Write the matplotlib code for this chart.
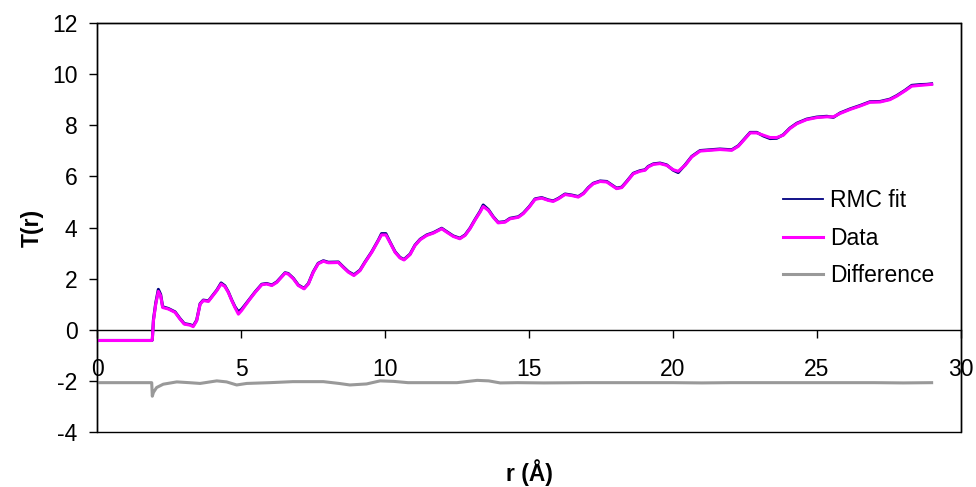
import matplotlib
matplotlib.use("Agg")
import matplotlib.pyplot as plt
from matplotlib.patches import Rectangle

plt.rcParams['font.family'] = ['Liberation Sans', 'DejaVu Sans']
plt.rcParams['axes.unicode_minus'] = False

r_vals = [0, 1.90, 1.92, 1.96, 2.04, 2.13, 2.21, 2.28, 2.48, 2.71,
          2.88, 3.03, 3.23, 3.34, 3.46, 3.58, 3.69, 3.87, 3.98, 4.16,
          4.31, 4.44, 4.56, 4.68, 4.79, 4.91, 5.02, 5.14, 5.31, 5.49,
          5.72, 5.89, 6.07, 6.24, 6.40, 6.53, 6.64, 6.82, 6.99, 7.19,
          7.34, 7.51, 7.68, 7.86, 8.03, 8.38, 8.55, 8.73, 8.92, 9.13,
          9.31, 9.54, 9.77, 9.88, 10.03, 10.17, 10.35, 10.52, 10.66, 10.87,
          11.04, 11.22, 11.45, 11.68, 11.97, 12.14, 12.37, 12.60, 12.78, 12.95,
          13.13, 13.30, 13.41, 13.59, 13.76, 13.93, 14.17, 14.34, 14.63, 14.80,
          15.01, 15.21, 15.44, 15.67, 15.84, 16.02, 16.25, 16.48, 16.71, 16.89,
          17.06, 17.23, 17.47, 17.70, 17.87, 18.04, 18.22, 18.39, 18.62, 18.85,
          19.03, 19.14, 19.32, 19.55, 19.78, 20.01, 20.18, 20.42, 20.65, 20.94,
          21.28, 21.63, 22.04, 22.27, 22.45, 22.68, 22.91, 23.14, 23.37, 23.60,
          23.83, 24.06, 24.30, 24.64, 24.99, 25.34, 25.57, 25.80, 26.15, 26.49,
          26.84, 27.19, 27.53, 27.77, 28.06, 28.29, 28.58, 28.81, 28.98]

data_T = [-0.42, -0.42, -0.40, 0.35, 1.00, 1.50, 1.33, 0.87, 0.81, 0.68,
          0.42, 0.22, 0.18, 0.12, 0.35, 1.00, 1.14, 1.11, 1.27, 1.53,
          1.79, 1.69, 1.46, 1.14, 0.87, 0.61, 0.75, 0.94, 1.20, 1.46,
          1.76, 1.79, 1.73, 1.85, 2.05, 2.21, 2.18, 1.99, 1.73, 1.60,
          1.79, 2.25, 2.58, 2.68, 2.62, 2.63, 2.44, 2.25, 2.12, 2.31,
          2.64, 3.03, 3.49, 3.71, 3.71, 3.42, 3.03, 2.81, 2.73, 2.94,
          3.29, 3.52, 3.69, 3.78, 3.95, 3.82, 3.65, 3.56, 3.69, 3.95,
          4.30, 4.60, 4.82, 4.67, 4.40, 4.18, 4.21, 4.34, 4.40, 4.54,
          4.80, 5.10, 5.15, 5.06, 5.02, 5.12, 5.29, 5.25, 5.19, 5.32,
          5.54, 5.71, 5.80, 5.78, 5.65, 5.52, 5.56, 5.78, 6.10, 6.20,
          6.24, 6.37, 6.47, 6.50, 6.43, 6.26, 6.20, 6.43, 6.76, 6.99,
          7.02, 7.05, 7.02, 7.18, 7.41, 7.70, 7.70, 7.61, 7.52, 7.52,
          7.61, 7.87, 8.06, 8.22, 8.30, 8.33, 8.33, 8.46, 8.62, 8.75,
          8.90, 8.91, 9.00, 9.14, 9.35, 9.53, 9.56, 9.58, 9.60]

fit_T = [-0.42, -0.42, -0.40, 0.40, 1.05, 1.58, 1.38, 0.90, 0.83, 0.70,
         0.44, 0.24, 0.20, 0.15, 0.37, 1.02, 1.16, 1.13, 1.29, 1.55,
         1.83, 1.72, 1.48, 1.16, 0.90, 0.70, 0.80, 0.97, 1.22, 1.48,
         1.78, 1.81, 1.75, 1.87, 2.07, 2.23, 2.20, 2.01, 1.75, 1.62,
         1.81, 2.27, 2.60, 2.70, 2.64, 2.65, 2.46, 2.27, 2.15, 2.33,
         2.66, 3.05, 3.51, 3.76, 3.76, 3.44, 3.05, 2.83, 2.75, 2.96,
         3.31, 3.54, 3.71, 3.80, 3.97, 3.84, 3.67, 3.58, 3.71, 3.97,
         4.32, 4.63, 4.88, 4.70, 4.42, 4.20, 4.23, 4.36, 4.42, 4.56,
         4.82, 5.12, 5.17, 5.08, 5.04, 5.14, 5.31, 5.27, 5.21, 5.34,
         5.56, 5.73, 5.82, 5.80, 5.67, 5.54, 5.58, 5.80, 6.12, 6.22,
         6.26, 6.39, 6.49, 6.52, 6.45, 6.24, 6.15, 6.45, 6.78, 7.01,
         7.04, 7.07, 7.04, 7.20, 7.43, 7.72, 7.72, 7.58, 7.48, 7.49,
         7.63, 7.89, 8.08, 8.24, 8.32, 8.35, 8.31, 8.48, 8.64, 8.77,
         8.92, 8.93, 9.02, 9.16, 9.37, 9.56, 9.59, 9.60, 9.62]

r_diff = [0, 1.90, 1.92, 1.96, 2.07, 2.30, 2.77, 3.20, 3.58, 4.16,
          4.50, 4.85, 5.20, 6.00, 6.80, 7.86, 8.40, 8.78, 9.36, 9.83,
          10.30, 10.80, 11.50, 12.50, 13.20, 13.60, 14.00, 14.60, 15.50, 17.00,
          18.00, 19.00, 20.00, 21.00, 22.00, 23.00, 24.00, 25.00, 26.00, 27.00,
          28.00, 28.98]
diff_T = [-2.07, -2.07, -2.60, -2.45, -2.26, -2.13, -2.04, -2.07, -2.10, -2.00,
          -2.04, -2.16, -2.10, -2.07, -2.03, -2.03, -2.10, -2.16, -2.12, -2.00,
          -2.02, -2.07, -2.07, -2.07, -1.98, -2.00, -2.08, -2.07, -2.08, -2.07,
          -2.07, -2.07, -2.07, -2.08, -2.07, -2.07, -2.07, -2.07, -2.07, -2.07,
          -2.08, -2.07]

x_ticks = [0, 5, 10, 15, 20, 25, 30]
y_ticks = [-4, -2, 0, 2, 4, 6, 8, 10, 12]

FS = 16.5

fig = plt.figure(figsize=(9.76, 4.87), dpi=100)
ax = fig.add_axes([97/976, 1 - 432/487, 864/976, 409/487])

ax.plot(r_vals, fit_T, color='#000080', lw=2.2, label='RMC fit', zorder=3)
ax.plot(r_vals, data_T, color='#FF00FF', lw=2.2, label='Data', zorder=4)
ax.plot(r_diff, diff_T, color='#999999', lw=2.2, label='Difference', zorder=3)

ax.set_xlim(0, 30)
ax.set_ylim(-4, 12)
ax.set_xticks(x_ticks)
ax.set_yticks(y_ticks)

ax.spines['bottom'].set_position(('data', 0))
for s in ax.spines.values():
    s.set_linewidth(1.0)
ax.add_patch(Rectangle((0, 0), 1, 1, transform=ax.transAxes, fill=False,
                       edgecolor='black', lw=1.0, clip_on=False, zorder=5))

ax.tick_params(axis='x', direction='out', length=6, width=1, pad=14, labelsize=FS)
ax.tick_params(axis='y', direction='out', length=6, width=1, pad=8, labelsize=FS)

ax.set_xlabel('r (Å)', fontsize=FS, fontweight='bold')
ax.set_ylabel('T(r)', fontsize=FS, fontweight='bold')
ax.xaxis.set_label_coords(0.5, -0.066)
ax.yaxis.set_label_coords(-0.062, 0.5)

leg = ax.legend(loc='upper left', bbox_to_anchor=((783 - 97) / 864, (432 - 189) / 409),
                frameon=False, fontsize=FS, handlelength=1.75, handletextpad=0.3,
                labelspacing=0.64, borderpad=0, borderaxespad=0)
leg.get_lines()[0].set_linewidth(1.3)

fig.savefig('out.png', dpi=100)
